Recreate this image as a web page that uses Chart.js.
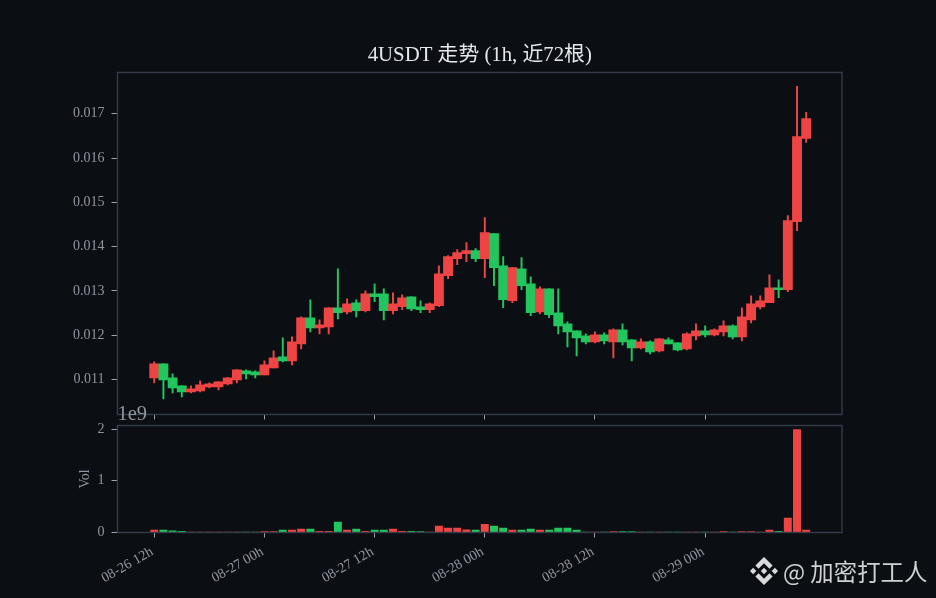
<!DOCTYPE html>
<html>
<head>
<meta charset="utf-8">
<style>
  html, body { margin: 0; padding: 0; background: #0b0f14; }
  body { width: 936px; height: 598px; overflow: hidden; position: relative; }
  canvas { position: absolute; left: 0; }
  #price-chart { top: 0; }
  #vol-chart { top: 400px; }
  #mark { position: absolute; left: 750px; top: 557px; width: 28px; height: 28px; fill: #d9dadb; }
  #mark-text { position: absolute; left: 783px; top: 554px; font: 23.4px/34px "Noto Sans CJK SC", sans-serif; color: #cfd1d3; white-space: nowrap; }
</style>
<script src="https://cdn.jsdelivr.net/npm/chart.js@4"></script>
</head>
<body>
<canvas id="price-chart" width="936" height="440"></canvas>
<canvas id="vol-chart" width="936" height="198"></canvas>
<svg id="mark" viewBox="0 0 126.61 126.61"><path d="M38.73 53.2l24.59-24.58 24.6 24.6 14.3-14.31L63.32 0 24.42 38.9zM0 63.31l14.3-14.31 14.31 14.31-14.31 14.3zM38.73 73.41l24.59 24.59 24.6-24.6 14.31 14.29-38.9 38.91-38.91-38.88v-.03zM98 63.31l14.3-14.31 14.31 14.3-14.31 14.32zM77.83 63.3L63.32 48.78 52.59 59.51l-1.24 1.23-2.54 2.54 14.51 14.5 14.5-14.47z"/></svg>
<div id="mark-text">@ 加密打工人</div>
<script>
const opens = [
  0.011034, 0.011351, 0.011034, 0.010853, 0.010717, 0.010740, 0.010831, 0.010831, 0.010899, 0.010989, 0.011193, 0.011170,
  0.011102, 0.011260, 0.011509, 0.011419, 0.011803, 0.012392, 0.012165, 0.012188, 0.012618, 0.012527, 0.012731, 0.012550,
  0.012935, 0.012935, 0.012550, 0.012641, 0.012867, 0.012641, 0.012573, 0.012663, 0.013342, 0.013726, 0.013840, 0.013907,
  0.013726, 0.014292, 0.013568, 0.012776, 0.013500, 0.013161, 0.012527, 0.013048, 0.012505, 0.012256, 0.012098, 0.011984,
  0.011849, 0.012007, 0.011848, 0.012120, 0.011894, 0.011713, 0.011848, 0.011645, 0.011894, 0.011826, 0.011690, 0.011984,
  0.012097, 0.012007, 0.012075, 0.012210, 0.011961, 0.012346, 0.012640, 0.012731, 0.013070, 0.013025, 0.014563, 0.016441,
];
const closes = [
  0.011351, 0.010989, 0.010808, 0.010717, 0.010785, 0.010876, 0.010899, 0.010944, 0.011034, 0.011215, 0.011125, 0.011102,
  0.011328, 0.011487, 0.011419, 0.011849, 0.012392, 0.012165, 0.012233, 0.012618, 0.012505, 0.012708, 0.012550, 0.012935,
  0.012867, 0.012550, 0.012708, 0.012844, 0.012595, 0.012573, 0.012708, 0.013387, 0.013772, 0.013862, 0.013907, 0.013726,
  0.014315, 0.013523, 0.012799, 0.013523, 0.013116, 0.012505, 0.013048, 0.012460, 0.012211, 0.012075, 0.011939, 0.011849,
  0.012007, 0.011871, 0.012120, 0.011848, 0.011713, 0.011848, 0.011622, 0.011916, 0.011803, 0.011667, 0.012030, 0.012097,
  0.012007, 0.012120, 0.012210, 0.011961, 0.012414, 0.012708, 0.012776, 0.013070, 0.013025, 0.014586, 0.016486, 0.016893,
];
const highs = [
  0.011396, 0.011360, 0.011125, 0.010860, 0.010853, 0.010966, 0.010921, 0.010950, 0.011040, 0.011220, 0.011215, 0.011193,
  0.011419, 0.011645, 0.011939, 0.011962, 0.012414, 0.012799, 0.012346, 0.012620, 0.013500, 0.012821, 0.012799, 0.013002,
  0.013161, 0.013048, 0.012957, 0.012912, 0.012870, 0.012776, 0.012731, 0.013568, 0.013794, 0.013930, 0.014088, 0.013953,
  0.014654, 0.014300, 0.013772, 0.013530, 0.013749, 0.013319, 0.013093, 0.013050, 0.013048, 0.012301, 0.012100, 0.012030,
  0.012075, 0.012052, 0.012142, 0.012256, 0.011900, 0.011916, 0.011871, 0.011920, 0.011939, 0.011830, 0.012052, 0.012256,
  0.012210, 0.012142, 0.012323, 0.012233, 0.012618, 0.012889, 0.012889, 0.013364, 0.013251, 0.014699, 0.017617, 0.017029,
];
const lows = [
  0.010921, 0.010559, 0.010695, 0.010604, 0.010695, 0.010717, 0.010808, 0.010763, 0.010876, 0.010921, 0.011012, 0.011034,
  0.011100, 0.011260, 0.011396, 0.011328, 0.011690, 0.012075, 0.012030, 0.012030, 0.012369, 0.012482, 0.012414, 0.012527,
  0.012754, 0.012346, 0.012482, 0.012573, 0.012550, 0.012505, 0.012505, 0.012641, 0.013274, 0.013591, 0.013659, 0.013659,
  0.013297, 0.013116, 0.012618, 0.012731, 0.013025, 0.012437, 0.012482, 0.012392, 0.012030, 0.011736, 0.011532, 0.011803,
  0.011826, 0.011803, 0.011486, 0.011780, 0.011419, 0.011690, 0.011577, 0.011622, 0.011800, 0.011645, 0.011667, 0.011894,
  0.011961, 0.011984, 0.011984, 0.011916, 0.011871, 0.012278, 0.012595, 0.012731, 0.012844, 0.012980, 0.014360, 0.016350,
];
const volumes = [
  0.045, 0.045, 0.030, 0.025, 0.006, 0.006, 0.005, 0.004, 0.004, 0.005, 0.006, 0.008,
  0.020, 0.020, 0.045, 0.045, 0.065, 0.065, 0.025, 0.025, 0.200, 0.045, 0.065, 0.025,
  0.045, 0.045, 0.065, 0.025, 0.025, 0.020, 0.008, 0.125, 0.085, 0.085, 0.050, 0.045,
  0.160, 0.125, 0.085, 0.045, 0.045, 0.065, 0.045, 0.045, 0.085, 0.085, 0.045, 0.006,
  0.005, 0.005, 0.020, 0.020, 0.020, 0.004, 0.004, 0.004, 0.004, 0.004, 0.004, 0.004,
  0.004, 0.005, 0.020, 0.005, 0.020, 0.020, 0.006, 0.045, 0.025, 0.280, 1.990, 0.045,
];
const timeTicks = [0, 12, 24, 36, 48, 60];
const timeLabels = ["08-26 12h", "08-27 00h", "08-27 12h", "08-28 00h", "08-28 12h", "08-29 00h"];
const priceTicks = [0.011, 0.012, 0.013, 0.014, 0.015, 0.016, 0.017];
const volTicks = [0, 1, 2];

const UP = "#ef4444";
const DOWN = "#22c55e";
const FRAME = "#343b49";
const MUTED = "#9ca3af";
const LABEL = "#8f96a1";
const SERIF = '"Liberation Serif", "Noto Sans CJK SC", serif';
const tickFont = { family: SERIF, size: 14 };
const candleColors = closes.map((c, i) => (c >= opens[i] ? UP : DOWN));

// spines on all four sides, plus the 1e9 offset text of the volume axis
const framePlugin = {
  id: "frame",
  afterDatasetsDraw(chart) {
    const { ctx, chartArea: a } = chart;
    ctx.save();
    ctx.strokeStyle = FRAME;
    ctx.lineWidth = 1.4;
    ctx.strokeRect(a.left, a.top, a.right - a.left, a.bottom - a.top);
    ctx.restore();
  },
};
const offsetTextPlugin = {
  id: "offsetText",
  afterDraw(chart) {
    const { ctx } = chart;
    ctx.save();
    ctx.font = `20.5px ${SERIF}`;
    ctx.fillStyle = LABEL;
    ctx.textAlign = "left";
    ctx.textBaseline = "alphabetic";
    ctx.fillText("1e9", 117.5, 20);
    ctx.restore();
  },
};

function xAxis(showLabels, fitHeight) {
  return {
    type: "linear",
    min: -4,
    max: 74.9,
    offset: false,
    afterBuildTicks: scale => { scale.ticks = timeTicks.map(v => ({ value: v })); },
    afterFit: scale => { scale.height = fitHeight; },
    border: { display: false },
    grid: { offset: false, drawOnChartArea: false, drawTicks: true, tickLength: 5, tickColor: MUTED, tickWidth: 1 },
    ticks: {
      display: showLabels,
      autoSkip: false,
      minRotation: 30,
      maxRotation: 30,
      padding: 6,
      labelOffset: -2,
      color: LABEL,
      font: tickFont,
      callback: (v, i) => timeLabels[i],
    },
  };
}

function yAxis(min, max, ticks, format, title) {
  return {
    type: "linear",
    min,
    max,
    beginAtZero: false,
    afterBuildTicks: scale => { scale.ticks = ticks.map(v => ({ value: v })); },
    afterFit: scale => { scale.width = 117.5; },
    border: { display: false },
    grid: { drawOnChartArea: false, drawTicks: true, tickLength: 6, tickColor: MUTED, tickWidth: 1 },
    ticks: { autoSkip: false, padding: 7, color: LABEL, font: tickFont, callback: format },
    title,
  };
}

const quiet = { legend: { display: false }, tooltip: { enabled: false } };

new Chart(document.getElementById("price-chart").getContext("2d"), {
  type: "bar",
  data: {
    datasets: [
      {
        data: highs.map((h, i) => ({ x: i, y: [lows[i], h] })),
        backgroundColor: candleColors,
        barThickness: 1.3,
        grouped: false,
        order: 2,
      },
      {
        data: opens.map((o, i) => ({ x: i, y: [o, closes[i]] })),
        backgroundColor: candleColors,
        barThickness: 9.2,
        grouped: false,
        order: 1,
      },
    ],
  },
  options: {
    responsive: false,
    animation: false,
    events: [],
    layout: { padding: { right: 94, left: 0, top: 0, bottom: 0 } },
    plugins: {
      ...quiet,
      title: {
        display: true,
        fullSize: false,
        text: "4USDT 走势 (1h, 近72根)",
        color: "#e5e7eb",
        font: { family: SERIF, size: 20.8, weight: "normal" },
        padding: { top: 43, bottom: 4.5 },
      },
    },
    scales: {
      x: xAxis(false, 25.5),
      y: yAxis(0.010208, 0.017932, priceTicks, v => v.toFixed(3)),
    },
  },
  plugins: [framePlugin],
});

new Chart(document.getElementById("vol-chart").getContext("2d"), {
  type: "bar",
  data: {
    datasets: [
      {
        data: volumes.map((v, i) => ({ x: i, y: v })),
        backgroundColor: candleColors,
        barThickness: 7.3,
        grouped: false,
      },
    ],
  },
  options: {
    responsive: false,
    animation: false,
    events: [],
    layout: { padding: { right: 94, left: 0, top: 25.5, bottom: 0 } },
    plugins: quiet,
    scales: {
      x: xAxis(true, 65.5),
      y: yAxis(0, 2.07, volTicks, v => String(v), {
        display: true,
        text: "Vol",
        color: LABEL,
        font: { family: SERIF, size: 14 },
        padding: { top: 77, bottom: 0 },
      }),
    },
  },
  plugins: [framePlugin, offsetTextPlugin],
});
</script>
</body>
</html>
